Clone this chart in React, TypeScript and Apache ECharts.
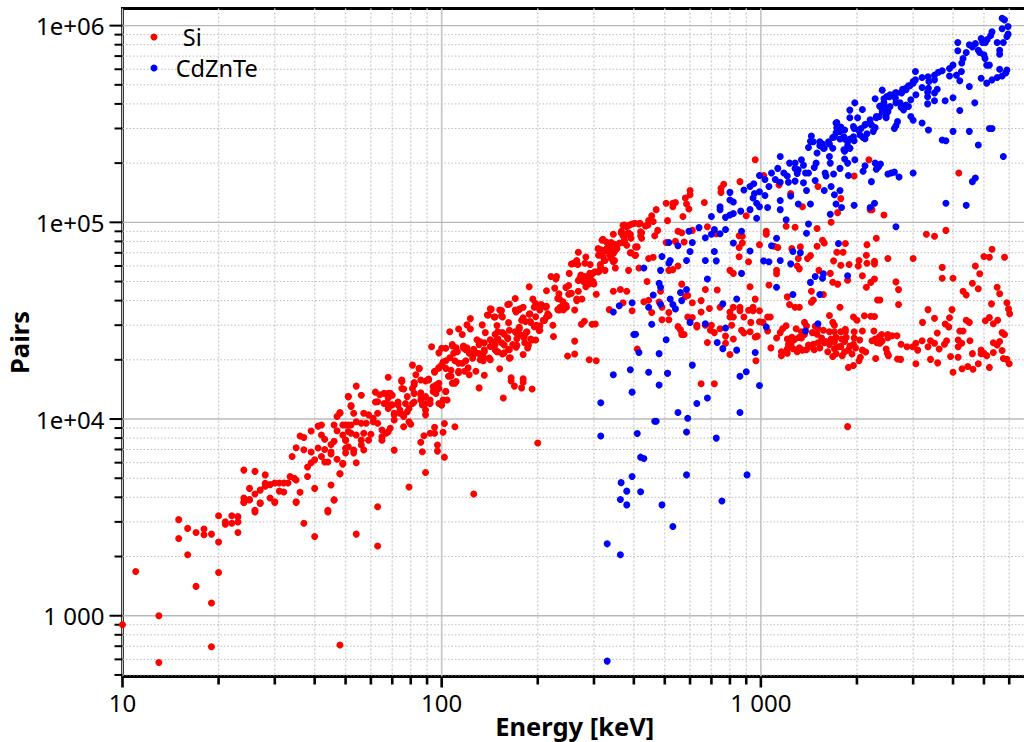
import React, { useEffect, useRef } from "react";
import * as echarts from "echarts";

const FONT = "'Noto Sans', sans-serif";
const xTickLabels: Record<number, string> = { 10: "10", 100: "100", 1000: "1 000" };
const yTickLabels: Record<number, string> = { 1000: "1 000", 10000: "1e+04", 100000: "1e+05", 1000000: "1e+06" };
const xMajor = [10, 100, 1000];
const xMinor = [20, 30, 40, 50, 60, 70, 80, 90, 200, 300, 400, 500, 600, 700, 800, 900, 2000, 3000, 4000, 5000, 6000];
const yMajor = [1000, 10000, 100000, 1000000];
const yMinor = [500, 600, 700, 800, 900, 2000, 3000, 4000, 5000, 6000, 7000, 8000, 9000, 20000, 30000, 40000, 50000, 60000, 70000, 80000, 90000, 200000, 300000, 400000, 500000, 600000, 700000, 800000, 900000];
const X_MIN = 10, X_MAX = 6821, Y_MIN = 491, Y_MAX = 1222000;

const siLow = [[10,900],[11,1680],[13,1000],[13,578],[15,3080],[15,2470],[16,2780],[16,2040],[17,2650],[17,1410],[18,2760],[18,2580],[19,2600],[19,1160],[19,695],[20,3220],[20,2370],[20,1660],[21,3000],[21,2920],[22,3220],[22,2950],[23,3190],[23,3000],[23,2650],[24,3770],[25,3880],[26,3370],[27,3750],[30,3800],[35,3800],[37,2950],[40,2530],[44,3370],[46,3880],[48,710],[63,3580],[54,2600],[63,2260],[79,4510],[89,5350],[126,4160],[200,7550],[102,6400],[97,6870],[97,7380],[87,6820],[86,7620],[71,6950],[88,8220],[92,8460],[95,9070],[95,8460],[101,8560],[102,9500],[110,9140],[89,10500],[54,6000],[49,5900],[48,5270],[1870,9150]];
const siBandA = [[24,5500],[26,5420],[28,5200],[25,4440],[24,3970],[24,3760],[25,3900],[26,4160],[27,4350],[28,4720],[29,3970],[30,3760],[26,3440],[27,3720],[28,4550],[29,4640],[30,4730],[31,4730],[32,4730],[33,4730],[33.5,5100],[34.5,5000],[35,4900],[31,4300],[32,4260],[36,4240],[35,3760],[40,4440],[45,4620],[46,3880],[44,3440],[34,6450],[35,7140],[37,6980],[36,8200],[37,8050],[39,8700],[41,9200],[42,9330],[39,6800],[41,7130],[42,8300],[43,7900],[43,7000],[45,6800],[46,7700],[45,7420],[45,6650],[47,6250],[49,5950],[48,5270],[38,5700],[38,5100],[39,6000],[40,6200],[42,6450],[43,6050],[44,6050],[47,8720],[46,9330],[49,9330],[51,9330],[50,7800],[51,8650],[50,7100],[47,10300],[48,10700],[51,13000],[52,11600]];
const siBandB = [[54,14700],[56,13200],[51,13000],[52,11700],[62,13700],[68,13500],[64,13300],[70,13200],[63,12250],[53,10700],[48,10800],[57,10700],[63,10700],[75,15500],[82,15300],[89,15600],[96,14900],[110,15200],[131,14400],[156,12800],[165,15600],[169,14700],[178,14400],[192,14200],[180,15400],[50,9320],[52,9320],[54,9690],[56,9510],[58,9510],[61,9690],[63,9510],[65,8790],[68,8620],[71,9880],[74,10700],[78,10900],[73,11800],[77,12000],[81,12000],[86,12500],[89,12000],[92,12500],[94,13800],[98,14300],[103,13800],[108,15200],[69,11800],[66,12000],[82,13500],[86,13200],[75,14300],[82,14900],[98,12000],[100,11800],[104,12500],[79,9690],[76,9140],[80,9410],[59,10500],[61,10100],[49,8300],[52,8460],[54,8300],[57,8460],[60,8360],[65,7810],[50,7810],[56,7810],[59,7810],[51,7230],[56,7380],[57,6960],[53,6960],[50,6730],[53,6730],[65,8130],[67,8460],[69,8970],[71,10700],[76,10500],[89,11100],[75,15600],[85,18100],[76,14200],[81,14300],[86,15800],[82,15300],[91,15800],[86,13600],[89,13000],[94,14600],[98,15200],[103,13800],[96,13500],[101,12500],[100,11800],[82,12200],[78,13000],[73,12200],[70,11800],[79,11300],[87,11800],[92,12000],[74,11100],[71,10500],[76,10300],[69,13500],[66,13500],[68,12800],[62,12200],[67,12000],[68,11300],[108,23900],[112,22000],[110,19800],[101,19500],[103,18100],[107,16500],[111,15500],[98,18200],[95,17300],[120,23000],[116,19200],[121,18200],[113,17500]];
const siBandC = [[68,16300],[75,15800],[81,18800],[85,18000],[83,16800],[91,15950],[93,23300],[100,22900],[103,22900],[98,21700],[108,23500],[111,23000],[117,23500],[120,22600],[106,27800],[113,28700],[116,26900],[123,32400],[120,30100],[123,28700],[134,30100],[149,29900],[140,33800],[143,36100],[146,33000],[152,35800],[154,33500],[162,30900],[137,27500],[129,25300],[131,23900],[136,24400],[142,25300],[147,27000],[155,27500],[161,25900],[149,25300],[154,24400],[147,23900],[142,23400],[136,22000],[131,21500],[126,22600],[126,21300],[122,21600],[135,19800],[142,20000],[119,19800],[113,19200],[109,21600],[106,20500],[103,19800],[100,18800],[98,18200],[95,17500],[107,17700],[105,16500],[113,17200],[118,17500],[122,16800],[128,17500],[136,16700],[152,18000],[165,16200],[180,16000],[162,22600],[164,20500],[149,22000],[155,21400]];
const siBandD = [[163,38400],[170,41000],[180,37000],[175,36100],[171,35000],[188,47000],[193,40700],[197,38600],[205,38200],[213,37400],[203,36100],[213,33000],[217,33600],[210,31700],[188,34100],[180,32700],[190,31000],[195,29500],[203,29800],[223,30000],[202,28200],[175,28700],[175,29300],[171,27500],[184,27500],[181,25900],[190,25500],[197,25200],[224,26300],[186,23000],[180,21300],[167,23900],[171,23200],[213,44900],[226,46300],[220,53000],[229,53000],[228,51500],[245,46700],[250,47700],[250,43100],[255,43600],[233,43300],[231,41000],[240,39400],[245,37900],[235,37000],[231,36000],[241,35900],[261,35800],[265,40800],[275,40800],[268,44600],[305,43100],[274,30300],[280,31400],[296,30300],[303,30400],[261,24900],[261,21400],[248,20900],[290,20000],[305,19800],[251,55000],[255,61400],[265,63900],[259,62000],[267,61000],[268,70400],[283,66700],[292,61000],[273,54000],[268,50600],[278,50600],[292,53000],[297,55000],[310,56000],[315,59000],[325,57000],[314,61000],[283,47000],[290,48600],[300,48600],[350,58600],[310,68000],[320,71000],[315,72500],[330,74000],[333,71000],[345,69500],[323,64000],[345,63000],[320,82000],[340,79000],[350,77000],[370,96500],[380,95000],[395,98000],[415,98000],[345,87000],[365,88500],[375,85500],[390,87000],[370,79000],[380,76500],[405,75000],[390,70000],[405,68000],[420,85500],[420,89500],[435,95800],[455,108000],[445,102000],[470,116000],[460,101000],[510,102000],[475,91000],[465,85500],[505,125000],[530,125000],[540,126000],[530,120000],[550,90000],[540,80000],[505,79000],[385,57000],[415,58600],[440,50000],[445,65500],[460,66500],[515,57000],[530,57500],[550,60000],[345,44600],[363,45600],[380,44600],[370,39000],[335,36000],[395,35500],[430,39500],[445,40200],[485,44600],[480,39300],[455,34800],[490,37000],[515,34800],[490,32000],[515,32000],[550,29500],[410,22700],[510,17100]];
const siBandE = [[147,24700],[150,25600],[157,27000],[161,25600],[147,22500],[157,23800],[163,22500],[136,22500],[132,24700],[127,22000],[135,20700],[125,20400],[150,27800],[163,28300],[170,27800],[176,26800],[172,25600],[182,26800],[185,27800],[192,25200],[182,24400],[172,23700],[187,23700],[163,20400],[157,21700],[150,22000],[141,20400],[132,20000],[119,22500],[117,23000],[178,31800],[183,31300],[189,34300],[197,33100],[203,35800],[195,37000],[206,37800],[212,37000],[215,34300],[208,31800],[198,30000],[189,31300],[203,28300],[234,35800],[246,37000],[252,43400],[234,40800],[265,40000],[170,35800],[176,36400],[161,38200],[142,36400],[147,33000],[154,35600],[155,33000],[139,33800]];
const siBandF = [[313,69000],[325,72000],[309,73500],[336,73500],[320,67000],[336,68000],[348,71000],[328,79500],[344,77000],[361,78500],[370,85500],[384,88500],[374,81000],[392,83000],[366,90000],[388,97000],[403,99000],[418,99000],[443,97000],[374,97000],[423,88500],[423,83000],[354,73500],[336,78500],[318,81000],[281,53000],[291,55000],[302,56000],[313,57000],[271,52000],[278,50000],[288,49000],[298,50000],[291,52000],[261,62000],[281,62000],[325,64000],[340,65500],[348,64000],[410,75000],[392,70000],[403,68000]];
const siScatterA = [[855,66900],[915,63000],[1120,57000],[1120,54800],[800,57000],[820,55000],[1060,48000],[925,47000],[670,45600],[730,45300],[565,48500],[580,42000],[590,42500],[960,40700],[610,39000],[650,40000],[820,37000],[860,37000],[860,35500],[745,37000],[690,36500],[650,35000],[800,35000],[800,33000],[820,33000],[915,35700],[945,37000],[945,35500],[990,35500],[885,33000],[930,31000],[990,31200],[1050,33000],[1070,33000],[1015,31000],[590,33000],[610,32800],[630,30000],[630,29400],[670,30000],[700,30000],[810,30000],[695,28300],[715,27500],[745,28800],[870,28300],[885,27400],[925,27800],[960,26100],[975,26400],[820,25500],[775,26400],[680,24500],[775,24300],[560,28400],[565,26900],[575,26900],[800,21300],[965,19800],[650,15100],[715,15100],[1050,28000],[1075,23000],[1120,25800],[1170,28800],[1200,29800],[1150,27500],[1210,25500],[1250,26000],[1280,25500],[1290,28800],[1370,31000],[1390,29700],[1340,27800],[1370,26900],[1340,25800],[1480,29600],[1510,28800],[1570,28300],[1640,27800],[1700,27800],[1780,27800],[1840,28600],[1840,27800],[1960,27800],[2080,28000],[2260,28000],[1640,33600],[1680,31000],[1700,30000],[1770,37000],[1950,33000],[2000,31800],[2110,33500],[2210,33300],[2270,33200]];
const siScatterB = [[1210,22700],[1160,22000],[1160,21000],[1210,21600],[1250,24800],[1270,25300],[1220,23900],[1300,22000],[1350,22400],[1390,22500],[1430,23300],[1410,23800],[1550,25800],[1510,24400],[1580,24400],[1640,23900],[1620,22000],[1700,24800],[1750,23300],[1700,22800],[1790,25500],[1830,24800],[1680,20800],[1830,22000],[1800,21000],[1880,22400],[1930,21400],[1950,24000],[1980,23000],[1960,25800],[2040,25200],[2080,22400],[2050,20600],[2030,19800],[2130,21900],[1880,18300],[1950,18700],[2290,20300],[2350,26200],[2390,26900],[2500,26900],[2580,26500],[2670,26500],[2310,24400],[2400,24900],[2500,25900],[2470,22700],[2490,21600],[2510,21000],[2680,20200],[2740,20100],[2750,24000],[2870,23300],[2990,23300],[3060,24300],[3100,22400],[3200,25000],[3340,23300],[3400,25000],[3500,24300],[3620,22700],[3760,24000],[3820,25000],[4150,25200],[4260,24300],[4150,23300],[4520,25000],[3060,19100],[3400,20100],[3580,19300],[3930,20800],[4150,20600],[4000,17300],[4270,18000],[4450,18500],[4620,17900],[4800,19100],[5200,18300],[4600,21500],[4900,22400],[5000,21600],[5100,21000],[4900,21500],[5350,21800],[5700,22300],[5750,20300],[6000,19100],[5900,20100],[5350,24400],[5500,23800],[5600,24800],[5700,27500],[5800,26900],[4500,31000],[4400,31800],[3970,36000],[3900,32700],[3780,30400],[3880,29400],[3500,32500],[3210,31000],[3340,36000],[4200,28000],[4300,28000],[3570,27400],[5280,38500],[5900,39000],[5970,36300],[6020,34300],[5520,31800],[5350,30500],[5200,32800],[5050,31600],[1240,24000],[1320,23000],[1460,24000],[1470,22500],[1530,23000],[1660,25500],[1600,24800],[1720,26000],[1850,26000],[1900,23500],[1720,21500],[1320,26000],[1450,27500],[1500,27000],[1260,22800],[1780,23400],[2230,25000],[2280,25500],[2360,24300]];
const siScatterC = [[4300,44600],[4400,42700],[4600,49000],[4800,46000],[4700,60000],[4850,54800],[5000,67000],[5200,66500],[5800,66500],[5500,46800],[5600,43300],[3700,59000],[3700,52000],[4000,52000],[2650,49800],[2700,45500],[2700,38200],[2320,40300],[2360,40300],[2500,65500],[3000,65500],[2270,63400],[2150,62000],[2270,61400],[2080,53500],[2270,51500],[2210,49500],[2140,46800],[2020,60000],[1890,61000],[1780,60500],[2030,64000],[2140,68000],[1690,63700],[1730,70400],[1810,70400],[1870,50800],[1650,55000],[1520,57000],[1680,49600],[1740,48500],[1440,44600],[1460,40300],[1440,39200],[1570,43000],[1230,38200],[1280,37000],[1320,37000],[1210,41800],[1310,65500],[1400,65500],[1430,67700],[1300,60000],[1320,58000],[960,208000],[4170,178000],[2180,208000],[1960,172000],[1020,173000],[860,161000],[765,156000],[750,149000],[750,142000],[600,145000],[600,138000],[580,133000],[585,124000],[595,117000],[665,126000],[570,107000],[1140,155000],[1240,140000],[1510,152000],[1780,132000],[1740,112000],[1660,100000],[1350,120000],[2200,116000],[2230,116000],[2430,109000],[1200,95500],[1280,94500],[1500,93000],[900,108000],[1040,90000],[1040,87000],[855,85500],[875,85000],[875,78500],[855,74500],[990,77000],[680,95000],[610,91000],[565,88500],[575,79500],[725,87500],[3300,87000],[3500,85000],[3800,91000],[2300,83000],[2150,77000],[1840,78000],[1560,81000],[1580,78500],[1500,75500],[1330,75000],[5300,73000],[1100,75500],[1130,74500],[1250,73500]];
const siPoints = [...siLow, ...siBandA, ...siBandB, ...siBandC, ...siBandD, ...siBandE, ...siBandF, ...siScatterA, ...siScatterB, ...siScatterC];

const czTop = [[5700,1090000],[5800,1070000],[5950,990000],[5700,965000],[5950,905000],[5900,880000],[5300,930000],[5250,890000],[5120,850000],[4900,860000],[4950,820000],[4700,810000],[4500,800000],[4600,780000],[5050,820000],[5500,820000],[5750,820000],[4140,820000],[4140,745000],[4800,750000],[4850,730000],[5000,710000],[5040,680000],[5600,750000],[5600,715000],[4400,730000],[4300,680000],[4260,645000],[4000,630000],[3900,605000],[5100,630000],[5200,630000],[5600,600000],[5900,595000],[5850,575000],[5700,555000],[5500,545000],[5300,530000],[5100,510000],[4900,540000],[4250,585000],[4100,560000],[3900,555000],[3700,590000],[3600,580000],[3500,560000],[3340,550000],[3500,530000],[3050,585000],[3200,545000],[3000,520000],[2900,495000],[2780,475000],[2640,455000],[2530,435000],[4200,525000],[3360,520000],[4500,490000],[3200,485000],[3350,480000],[3570,475000],[3330,460000],[3500,455000],[3330,435000],[3500,415000],[3060,445000],[2950,420000],[2850,395000],[2750,385000],[2650,405000],[3780,415000],[4000,430000],[3330,400000],[4680,405000],[4200,370000],[2950,345000],[3000,330000],[3200,320000],[3350,295000],[4000,290000],[4500,290000],[5200,300000],[5300,300000],[3700,262000],[3800,260000],[4800,247000],[5750,216000]];
const czMiddle = [[2400,470000],[2280,425000],[2430,425000],[2360,390000],[2400,385000],[2500,372000],[2470,352000],[2470,340000],[2680,325000],[2650,310000],[2620,300000],[2350,345000],[2300,345000],[2200,332000],[1970,405000],[1900,372000],[2080,375000],[1900,340000],[2010,340000],[2130,315000],[2060,300000],[1960,300000],[2250,290000],[2150,282000],[2090,270000],[1720,320000],[1780,305000],[1830,295000],[1720,285000],[1680,270000],[1770,265000],[1830,265000],[1900,265000],[1960,260000],[1870,245000],[1440,275000],[1430,258000],[1410,240000],[1560,250000],[1640,250000],[1530,245000],[1580,238000],[1500,225000],[1680,238000],[1640,216000],[1830,230000],[1900,238000],[1830,210000],[1870,200000],[1970,208000],[1650,200000],[1590,178000],[1600,172000],[1690,176000],[1770,188000],[1880,173000],[2120,194000],[2090,182000],[2280,200000],[2340,192000],[2370,198000],[2300,186000],[2500,176000],[2620,180000],[2560,178000],[2710,170000],[3000,178000],[4600,161000],[4700,168000],[2220,161000],[1480,163000],[1360,159000],[1150,216000],[1230,200000],[1280,200000],[1340,208000],[1360,195000],[1130,188000],[1180,178000],[1280,188000],[1310,185000],[1380,178000],[1410,178000],[1490,200000],[1470,190000],[1080,178000],[1030,165000],[1110,165000],[1150,160000],[1210,172000],[1280,162000],[1300,177000],[1220,160000],[990,173000],[1060,152000],[950,157000],[925,152000],[885,146000],[800,142000],[800,130000],[820,127000],[990,143000],[955,140000],[1030,137000],[945,133000],[970,125000],[990,120000],[1050,119000],[745,120000],[745,116000],[925,116000],[865,114000],[820,111000],[800,109000],[775,106000],[970,105000],[700,107000],[1150,129000],[1150,116000],[1240,136000],[1310,124000],[1430,124000],[1390,145000],[1580,145000],[1660,152000],[1770,145000],[1700,138000],[1720,124000],[1790,119000],[1650,110000],[1960,122000],[2200,119000],[2270,125000],[1200,103000],[1410,98000],[1390,88000],[1120,83000],[2650,95000],[3800,125000],[4400,122000],[640,94000],[715,92000],[775,92000],[595,90000],[670,83500],[700,87000],[745,87500],[610,79000],[870,90000],[820,78500],[1750,78000],[1080,76000]];
const czDense = [[1460,257000],[1530,257000],[1570,238000],[1630,257000],[1700,272000],[1730,303000],[1770,290000],[1730,322000],[1820,272000],[1870,257000],[1900,238000],[1820,234000],[1950,272000],[2020,295000],[2045,278000],[2120,313000],[2220,313000],[2300,340000],[2400,365000],[2430,395000],[2540,388000],[2500,365000],[2640,428000],[2760,455000],[2850,480000],[3000,510000],[2730,405000],[2900,388000],[2800,373000],[2540,445000],[2660,455000],[2280,303000],[2120,266000],[1950,307000],[2930,495000],[2850,472000],[3050,530000],[2480,436000],[2430,405000],[2360,388000]];
const czLower = [[515,79000],[550,76000],[490,67000],[520,64000],[515,62000],[430,58600],[485,57000],[480,49000],[485,46800],[460,42700],[395,39000],[520,40800],[530,38200],[540,36300],[485,38300],[360,37700],[345,35000],[445,37000],[455,30300],[405,27000],[400,26900],[505,25300],[415,21800],[480,21500],[345,16800],[390,17800],[445,17300],[510,17100],[315,12100],[395,13700],[480,14900],[550,10800],[465,9750],[470,9750],[315,8200],[410,8450],[420,6400],[430,6300],[395,5100],[365,4750],[380,4300],[420,4270],[363,3900],[380,3660],[490,3660],[530,2840],[330,2320],[363,2040],[330,588],[585,64000],[670,64000],[725,63700],[600,71000],[715,71000],[925,71500],[1020,63700],[1060,63000],[1150,64000],[1240,61500],[1260,71000],[1330,70000],[870,55000],[680,51500],[1480,53000],[1570,54700],[1560,52000],[1430,49500],[1870,53500],[1120,46800],[585,45500],[560,44000],[565,40000],[1260,43000],[1530,43000],[760,38500],[840,40800],[600,31000],[670,30500],[1040,29400],[775,29000],[1510,30500],[1380,28000],[730,24500],[760,22800],[840,22400],[960,21800],[610,18800],[900,17400],[860,16500],[990,14800],[680,12800],[630,12000],[860,10800],[590,10100],[585,8600],[725,8000],[585,5200],[755,3830],[905,5200]];
const cdZnTePoints = [...czLower, ...czMiddle, ...czDense, ...czTop];

const guideData = [
  ...xMajor.map((v) => [v, Y_MIN, 0]),
  ...xMinor.map((v) => [v, Y_MIN, 1]),
  ...yMajor.map((v) => [X_MIN, v, 2]),
  ...yMinor.map((v) => [X_MIN, v, 3]),
];

function renderGuide(params: any, api: any) {
  const kind = api.value(2);
  const p = api.coord([api.value(0), api.value(1)]);
  const c = params.coordSys;
  const line = (x1: number, y1: number, x2: number, y2: number, style: any) => ({
    type: "line",
    shape: { x1, y1, x2, y2 },
    style,
  });
  const bottom = c.y + c.height;
  if (kind === 0) {
    return {
      type: "group",
      children: [
        line(p[0], c.y, p[0], bottom, { stroke: "#c4c4c4", lineWidth: 1.6 }),
        line(p[0], bottom, p[0], bottom + 11, { stroke: "#000", lineWidth: 2.6 }),
      ],
    };
  }
  if (kind === 1) {
    return {
      type: "group",
      children: [
        line(p[0], c.y, p[0], bottom, { stroke: "#cfcfcf", lineWidth: 1.4, lineDash: [2, 2] }),
        line(p[0], bottom, p[0], bottom + 8, { stroke: "#000", lineWidth: 2.6 }),
      ],
    };
  }
  if (kind === 2) {
    return {
      type: "group",
      children: [
        line(c.x, p[1], c.x + c.width, p[1], { stroke: "#b8b8b8", lineWidth: 1.4 }),
        line(c.x - 13, p[1], c.x, p[1], { stroke: "#000", lineWidth: 2 }),
      ],
    };
  }
  return {
    type: "group",
    children: [
      line(c.x, p[1], c.x + c.width, p[1], { stroke: "#bdbdbd", lineWidth: 1, lineDash: [1.5, 2] }),
      line(c.x - 8, p[1], c.x, p[1], { stroke: "#000", lineWidth: 2 }),
    ],
  };
}

const legendText = { fontFamily: FONT, fontSize: 23.5, color: "#000" };

export default function App() {
  const ref = useRef<HTMLDivElement>(null);
  useEffect(() => {
    const chart = echarts.init(ref.current!, null, { renderer: "svg" });
    chart.setOption({
      animation: false,
      backgroundColor: "#fff",
      grid: { show: true, left: 122.5, top: 8.5, bottom: 742 - 676.5, right: -3, borderColor: "#000", borderWidth: 3, outerBoundsMode: "none" },
      legend: [
        { data: ["Si"], left: 150.5, top: 25, itemWidth: 47.5, itemHeight: 7, icon: "circle", textStyle: legendText, selectedMode: false, padding: 0 },
        { data: ["CdZnTe"], left: 150.5, top: 56, itemWidth: 33.5, itemHeight: 7, icon: "circle", textStyle: legendText, selectedMode: false, padding: 0 },
      ],
      xAxis: {
        type: "log", logBase: 10, min: X_MIN, max: X_MAX,
        name: "Energy [keV]", nameLocation: "middle", nameGap: 36.5, nameMoveOverlap: false,
        nameTextStyle: { fontFamily: FONT, fontSize: 25.5, fontWeight: "bold", color: "#000" },
        axisLine: { show: false }, axisTick: { show: false }, splitLine: { show: false }, minorTick: { show: false }, minorSplitLine: { show: false },
        axisLabel: { fontFamily: FONT, fontSize: 24, color: "#000", margin: 14, showMinLabel: true, showMaxLabel: false, hideOverlap: false,
          formatter: (v: number) => xTickLabels[Math.round(v)] ?? "" },
      },
      yAxis: {
        type: "log", logBase: 10, min: Y_MIN, max: Y_MAX,
        name: "Pairs", nameLocation: "middle", nameGap: 91, nameMoveOverlap: false,
        nameTextStyle: { fontFamily: FONT, fontSize: 25.5, fontWeight: "bold", color: "#000" },
        axisLine: { show: false }, axisTick: { show: false }, splitLine: { show: false }, minorTick: { show: false }, minorSplitLine: { show: false },
        axisLabel: { fontFamily: FONT, fontSize: 24, color: "#000", margin: 18, hideOverlap: false,
          formatter: (v: number) => yTickLabels[Math.round(v)] ?? "" },
      },
      series: [
        { name: "guides", type: "custom", silent: true, z: 1, clip: false, renderItem: renderGuide, data: guideData, encode: { x: 0, y: 1 } },
        { name: "Si", type: "scatter", z: 2, symbol: "circle", symbolSize: 7, itemStyle: { color: "#ff0000", opacity: 1 }, data: siPoints },
        { name: "CdZnTe", type: "scatter", z: 3, symbol: "circle", symbolSize: 7, itemStyle: { color: "#0000ff", opacity: 1 }, data: cdZnTePoints },
      ],
    });
    return () => chart.dispose();
  }, []);
  return <div ref={ref} style={{ position: "absolute", left: 0, top: 0, width: 1024, height: 742 }} />;
}
